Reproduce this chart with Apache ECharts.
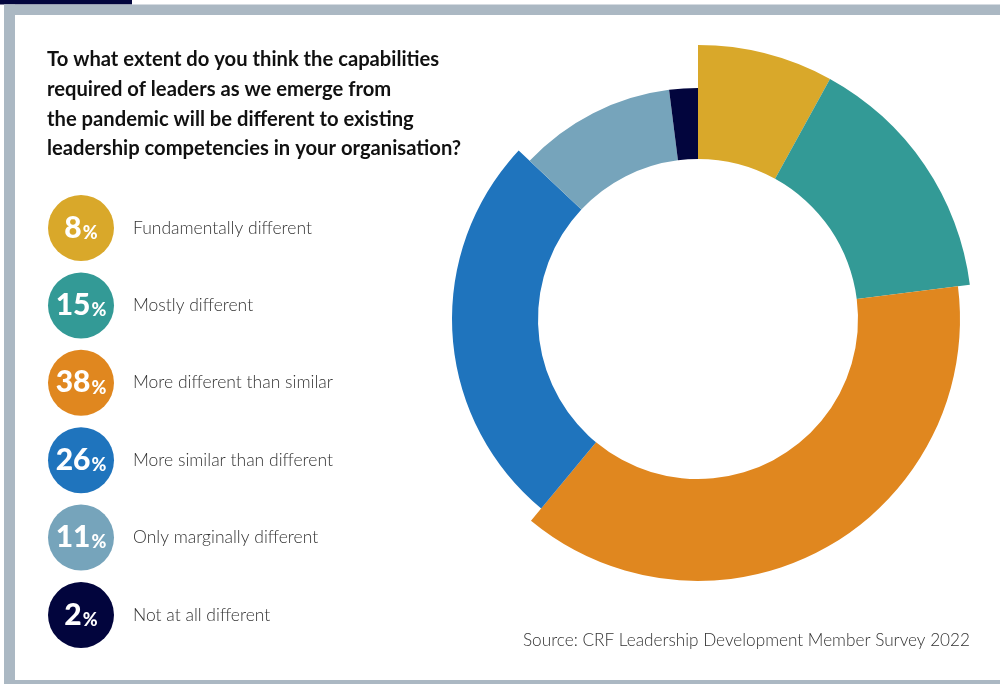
<!DOCTYPE html>
<html>
<head>
<meta charset="utf-8">
<style>
  html, body { margin: 0; padding: 0; background: #ffffff; }
  #chart { width: 1000px; height: 684px; }
</style>
<script src="https://cdn.jsdelivr.net/npm/echarts@6/dist/echarts.min.js"></script>
</head>
<body>
<div id="chart"></div>
<script>
// Survey answers and their shares (%)
const categories = [
  'Fundamentally different',
  'Mostly different',
  'More different than similar',
  'More similar than different',
  'Only marginally different',
  'Not at all different'
];
const shares = [8, 15, 38, 26, 11, 2];

const titleLines = [
  'To what extent do you think the capabilities',
  'required of leaders as we emerge from',
  'the pandemic will be different to existing',
  'leadership competencies in your organisation?'
];
const sourceNote = 'Source: CRF Leadership Development Member Survey 2022';

// Styling
const palette = ['#D9A82A', '#339A96', '#E0871F', '#1F74BD', '#76A4BB', '#02053D'];
const outerRadius = [274, 274, 262, 246, 231, 231];
const innerRadius = 160;
const frameGrey = '#ABB8C3';
const navy = '#02053D';

const chart = echarts.init(document.getElementById('chart'), null, { renderer: 'canvas' });

// One ring per answer: each ring lays out every share but paints only its own slice,
// so each slice can reach its own outer radius.
const ringSeries = categories.map((name, i) => ({
  type: 'pie',
  silent: true,
  center: [698, 319],
  radius: [innerRadius, outerRadius[i]],
  startAngle: 90,
  clockwise: true,
  label: { show: false },
  labelLine: { show: false },
  emphasis: { disabled: true },
  animation: false,
  z: 2,
  data: categories.map((n, j) => ({
    name: n,
    value: shares[j],
    itemStyle: { color: j === i ? palette[j] : 'rgba(0,0,0,0)' }
  }))
}));

const option = {
  backgroundColor: '#ffffff',
  animation: false,
  title: [
    {
      text: titleLines.join('\n'),
      left: 47,
      top: 44.5,
      padding: 0,
      textStyle: {
        fontFamily: 'Lato',
        fontWeight: 'bold',
        fontSize: 20.2,
        lineHeight: 29.8,
        color: '#111111'
      }
    },
    {
      text: sourceNote,
      left: 523,
      top: 632,
      padding: 0,
      textStyle: {
        fontFamily: 'Lato',
        fontWeight: 300,
        fontSize: 17.2,
        color: '#333333'
      }
    }
  ],
  graphic: [
    // frame
    { type: 'rect', shape: { x: 0, y: 0, width: 132, height: 4.5 }, style: { fill: navy }, silent: true },
    { type: 'rect', shape: { x: 4, y: 4.5, width: 996, height: 10.5 }, style: { fill: frameGrey }, silent: true },
    { type: 'rect', shape: { x: 4, y: 4.5, width: 11, height: 680 }, style: { fill: frameGrey }, silent: true },
    { type: 'rect', shape: { x: 4, y: 680, width: 996, height: 4 }, style: { fill: frameGrey }, silent: true }
  ],
  grid: { left: 81, width: 1, top: 189.3, height: 464.4 },
  xAxis: { type: 'value', min: 0, max: 1, show: false },
  yAxis: {
    type: 'category',
    data: categories,
    inverse: true,
    position: 'right',
    axisLine: { show: false },
    axisTick: { show: false },
    splitLine: { show: false },
    axisLabel: {
      margin: 51,
      fontFamily: 'Lato',
      fontWeight: 300,
      fontSize: 17.5,
      color: '#333333'
    }
  },
  series: [
    ...ringSeries,
    {
      // percentage badges
      type: 'scatter',
      silent: true,
      symbol: 'circle',
      symbolSize: 66,
      data: shares.map((v, i) => ({
        value: [0, categories[i]],
        itemStyle: { color: palette[i], opacity: 1 }
      })),
      label: {
        show: true,
        position: 'inside',
        formatter: (p) => '{n|' + shares[p.dataIndex] + '}{p|%}',
        rich: {
          n: { fontFamily: 'Lato', fontWeight: 900, fontSize: 30, color: '#ffffff', verticalAlign: 'bottom' },
          p: { fontFamily: 'Lato', fontWeight: 900, fontSize: 18, color: '#ffffff', verticalAlign: 'bottom', padding: [0, 0, 1, 1] }
        }
      }
    }
  ]
};

chart.setOption(option);
</script>
</body>
</html>
